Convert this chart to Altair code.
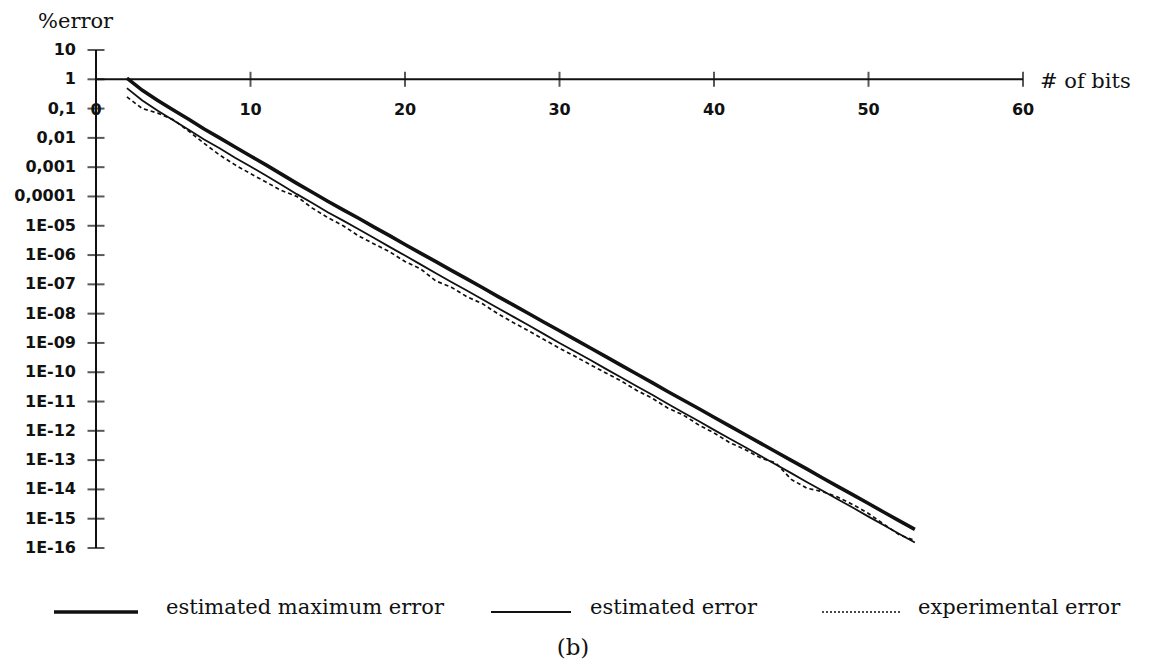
import altair as alt
import pandas as pd

# ---- data ----
bits = list(range(2, 54))

max_error = [1.1, 0.42, 0.19, 0.089, 0.043, 0.020, 0.010, 4.9e-3, 2.4e-3, 1.2e-3,
             5.8e-4, 2.8e-4, 1.4e-4, 6.9e-5, 3.5e-5, 1.8e-5, 9.0e-6, 4.6e-6, 2.3e-6, 1.17e-6,
             6.0e-7, 3.0e-7, 1.53e-7, 7.8e-8, 3.9e-8, 2.0e-8, 1.01e-8, 5.1e-9, 2.6e-9, 1.32e-9,
             6.7e-10, 3.4e-10, 1.72e-10, 8.7e-11, 4.4e-11, 2.2e-11, 1.13e-11, 5.8e-12, 2.9e-12, 1.48e-12,
             7.5e-13, 3.8e-13, 1.93e-13, 9.8e-14, 5.0e-14, 2.5e-14, 1.27e-14, 6.5e-15, 3.3e-15, 1.66e-15,
             8.4e-16, 4.3e-16]

est_error = [0.5, 0.19, 0.085, 0.040, 0.019, 0.0088, 4.4e-3, 2.1e-3, 1.05e-3, 5.2e-4,
             2.5e-4, 1.2e-4, 6.0e-5, 2.9e-5, 1.5e-5, 7.6e-6, 3.8e-6, 1.9e-6, 9.6e-7, 4.8e-7,
             2.4e-7, 1.2e-7, 6.2e-8, 3.1e-8, 1.55e-8, 7.9e-9, 4.0e-9, 2.0e-9, 1.0e-9, 5.1e-10,
             2.6e-10, 1.3e-10, 6.6e-11, 3.3e-11, 1.7e-11, 8.4e-12, 4.2e-12, 2.15e-12, 1.08e-12, 5.5e-13,
             2.8e-13, 1.4e-13, 7.1e-14, 3.6e-14, 1.8e-14, 9.2e-15, 4.6e-15, 2.35e-15, 1.18e-15, 6.0e-16,
             3.0e-16, 1.55e-16]

exp_error = [0.25, 0.10, 0.070, 0.042, 0.017, 0.0065, 2.6e-3, 1.2e-3, 6.0e-4, 3.1e-4,
             1.6e-4, 1.0e-4, 4.0e-5, 1.9e-5, 1.0e-5, 4.5e-6, 2.4e-6, 1.3e-6, 6.0e-7, 3.4e-7,
             1.3e-7, 8.0e-8, 3.8e-8, 2.2e-8, 1.0e-8, 5.0e-9, 2.6e-9, 1.3e-9, 6.6e-10, 3.5e-10,
             1.8e-10, 9.5e-11, 5.0e-11, 2.4e-11, 1.3e-11, 6.0e-12, 3.5e-12, 1.6e-12, 8.5e-13, 4.0e-13,
             2.3e-13, 1.2e-13, 8.0e-14, 2.2e-14, 1.1e-14, 8.5e-15, 5.5e-15, 3.0e-15, 1.5e-15, 6.5e-16,
             2.8e-16, 1.8e-16]

x_ticks = [0, 10, 20, 30, 40, 50, 60]
x_tick_labels = ["0", "10", "20", "30", "40", "50", "60"]
y_ticks = [10, 1, 0.1, 0.01, 0.001, 0.0001, 1e-5, 1e-6, 1e-7, 1e-8, 1e-9, 1e-10,
           1e-11, 1e-12, 1e-13, 1e-14, 1e-15, 1e-16]
y_tick_labels = ["10", "1", "0,1", "0,01", "0,001", "0,0001", "1E-05", "1E-06", "1E-07",
                 "1E-08", "1E-09", "1E-10", "1E-11", "1E-12", "1E-13", "1E-14", "1E-15", "1E-16"]

legend_names = ["estimated maximum error", "estimated error", "experimental error"]

# ---- tables ----
df_max = pd.DataFrame({"bits": bits, "err": max_error})
df_est = pd.DataFrame({"bits": bits, "err": est_error})
df_exp = pd.DataFrame({"bits": bits, "err": exp_error})
df_xt = pd.DataFrame({"bits": x_ticks, "label": x_tick_labels, "err": [1] * len(x_ticks)})
df_yt = pd.DataFrame({"err": y_ticks, "label": y_tick_labels, "bits": [0] * len(y_ticks)})
df_xaxis = pd.DataFrame({"bits": [0], "bits2": [60], "err": [1]})
df_yaxis = pd.DataFrame({"bits": [0], "err": [10], "err2": [1e-16]})

xs = alt.Scale(domain=[0, 60], range=[96, 1023], nice=False, zero=False)
ys = alt.Scale(type="log", domain=[1e-16, 10], range=[548, 50], nice=False)

X = lambda f="bits": alt.X(f"{f}:Q", scale=xs, axis=None)
Y = lambda f="err": alt.Y(f"{f}:Q", scale=ys, axis=None)

BLACK = "#111111"
TICK_FONT = "DejaVu Sans"
SLAB = "DejaVu Serif"

line_max = alt.Chart(df_max).mark_line(color=BLACK, strokeWidth=3.6).encode(x=X(), y=Y())
line_est = alt.Chart(df_est).mark_line(color=BLACK, strokeWidth=1.8).encode(x=X(), y=Y())
line_exp = alt.Chart(df_exp).mark_line(color=BLACK, strokeWidth=1.7, strokeDash=[4, 3]).encode(x=X(), y=Y())

xaxis = alt.Chart(df_xaxis).mark_rule(color=BLACK, strokeWidth=2).encode(
    x=X(), x2=alt.X2("bits2:Q"), y=Y())
yaxis = alt.Chart(df_yaxis).mark_rule(color=BLACK, strokeWidth=2).encode(
    x=X(), y=Y(), y2=alt.Y2("err2:Q"))

xticks = alt.Chart(df_xt).mark_tick(color=BLACK, orient="vertical", size=15, thickness=2).encode(
    x=X(), y=Y())
yticks = alt.Chart(df_yt).mark_tick(color=BLACK, orient="horizontal", size=17, thickness=2).encode(
    x=X(), y=Y())

xlabels = alt.Chart(df_xt).mark_text(font=TICK_FONT, fontSize=16, fontWeight="bold", color=BLACK,
                                     dy=31, baseline="middle", align="center").encode(
    x=X(), y=Y(), text="label:N")
ylabels = alt.Chart(df_yt).mark_text(font=TICK_FONT, fontSize=16, fontWeight="bold", color=BLACK,
                                     dx=-20, baseline="middle", align="right").encode(
    x=X(), y=Y(), text="label:N")

title_y = alt.Chart(df_xaxis).mark_text(font=SLAB, fontSize=21, color=BLACK, align="left",
                                        baseline="middle", text="%error").encode(
    x=alt.value(38), y=alt.value(22))
title_x = alt.Chart(df_xaxis).mark_text(font=SLAB, fontSize=21, color=BLACK, align="left",
                                        baseline="middle", text="# of bits").encode(
    x=alt.value(1040), y=alt.value(82))

# legend (manual, at bottom)
leg_y = 612
leg_max = alt.Chart(df_xaxis).mark_rule(color=BLACK, strokeWidth=3.6).encode(
    x=alt.value(54), x2=alt.value(138), y=alt.value(leg_y))
leg_est = alt.Chart(df_xaxis).mark_rule(color=BLACK, strokeWidth=1.8).encode(
    x=alt.value(491), x2=alt.value(571), y=alt.value(leg_y))
leg_exp = alt.Chart(df_xaxis).mark_rule(color=BLACK, strokeWidth=1.7, strokeDash=[2, 2]).encode(
    x=alt.value(822), x2=alt.value(900), y=alt.value(leg_y))
leg_t1 = alt.Chart(df_xaxis).mark_text(font=SLAB, fontSize=21, color=BLACK, align="left",
                                       baseline="middle", text=legend_names[0]).encode(
    x=alt.value(166), y=alt.value(leg_y - 4))
leg_t2 = alt.Chart(df_xaxis).mark_text(font=SLAB, fontSize=21, color=BLACK, align="left",
                                       baseline="middle", text=legend_names[1]).encode(
    x=alt.value(590), y=alt.value(leg_y - 4))
leg_t3 = alt.Chart(df_xaxis).mark_text(font=SLAB, fontSize=21, color=BLACK, align="left",
                                       baseline="middle", text=legend_names[2]).encode(
    x=alt.value(918), y=alt.value(leg_y - 4))
caption = alt.Chart(df_xaxis).mark_text(font=SLAB, fontSize=23, color=BLACK, align="center",
                                        baseline="middle", text="(b)").encode(
    x=alt.value(573), y=alt.value(648))

chart = alt.layer(
    xaxis, yaxis, xticks, yticks, xlabels, ylabels,
    line_exp, line_est, line_max,
    title_y, title_x,
    leg_max, leg_est, leg_exp, leg_t1, leg_t2, leg_t3, caption,
).properties(
    width=1150, height=669,
    autosize=alt.AutoSizeParams(type="none"),
    padding=0,
    background="white",
).configure_view(stroke=None)

chart.save("out.html", embed_options={"renderer": "svg", "actions": False})
